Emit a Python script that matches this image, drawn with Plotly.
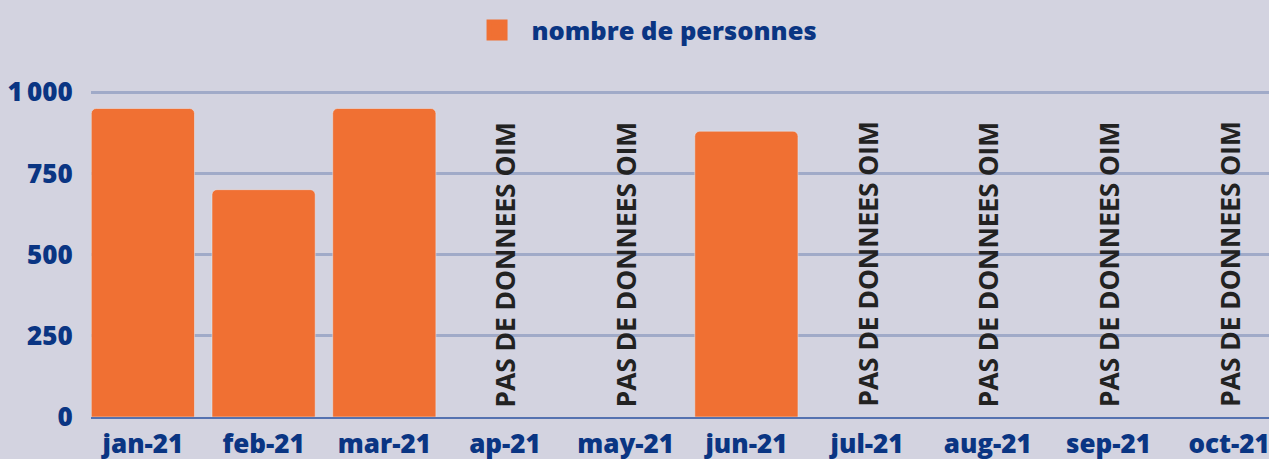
import plotly.graph_objects as go

categories = ["jan-21", "feb-21", "mar-21", "ap-21", "may-21", "jun-21",
              "jul-21", "aug-21", "sep-21", "oct-21"]
values = [950, 700, 950, None, None, 880, None, None, None, None]
series_name = "nombre de personnes"
no_data_text = "PAS DE DONNEES OIM"
y_tickvals = [0, 250, 500, 750, 1000]
y_ticktext = ["0", "250", "500", "750", "1\u2009000"]

BLUE = "#0a3583"
ORANGE = "#f07033"
BG = "#d3d3e0"
FONT = "Open Sans"

fig = go.Figure()
fig.add_trace(go.Bar(
    x=list(range(len(categories))), y=values, name=series_name,
    marker=dict(color=ORANGE, cornerradius=5),
    width=0.855, showlegend=False,
))
# legend entry with a larger square swatch
fig.add_trace(go.Scatter(
    x=[None], y=[None], mode="markers", name=series_name,
    marker=dict(symbol="square", size=22, color=ORANGE,
                line=dict(color=ORANGE, width=5)),
    showlegend=True,
))

for i, v in enumerate(values):
    if v is None:
        fig.add_annotation(
            x=i, y=0, xref="x", yref="y", text=no_data_text,
            textangle=-90, showarrow=False, yanchor="bottom", xanchor="center",
            yshift=8, font=dict(family=FONT, size=26.3, color="#222222", weight=700),
        )

fig.update_layout(
    width=1269, height=459,
    paper_bgcolor=BG, plot_bgcolor=BG,
    margin=dict(l=91, r=0, t=89, b=42),
    font=dict(family=FONT, color=BLUE),
    showlegend=True,
    legend=dict(orientation="h", x=0.4682, xanchor="center", y=0.985, yanchor="top",
                yref="container", font=dict(family=FONT, size=25.5, color=BLUE, weight=800),
                bgcolor="rgba(0,0,0,0)", itemwidth=59, itemsizing="trace"),
    xaxis=dict(
        tickvals=list(range(len(categories))), ticktext=categories,
        range=[-0.43, 9.33], showgrid=False, zeroline=False, automargin=False,
        showline=True, linecolor="#5572b0", linewidth=2, ticklabeloverflow="allow",
        tickfont=dict(family=FONT, size=26, color=BLUE, weight=800),
        ticks="outside", ticklen=3, tickcolor="rgba(0,0,0,0)",
    ),
    yaxis=dict(
        range=[0, 1010], tickvals=y_tickvals, ticktext=y_ticktext, automargin=False,
        showgrid=True, gridcolor="#a0aac8", gridwidth=3, zeroline=False,
        tickfont=dict(family=FONT, size=26, color=BLUE, weight=800),
        ticks="outside", ticklen=12, tickcolor="rgba(0,0,0,0)",
    ),
)

fig.write_html("out.html", config={"displayModeBar": False},
               post_script="document.body.style.margin='0';")
